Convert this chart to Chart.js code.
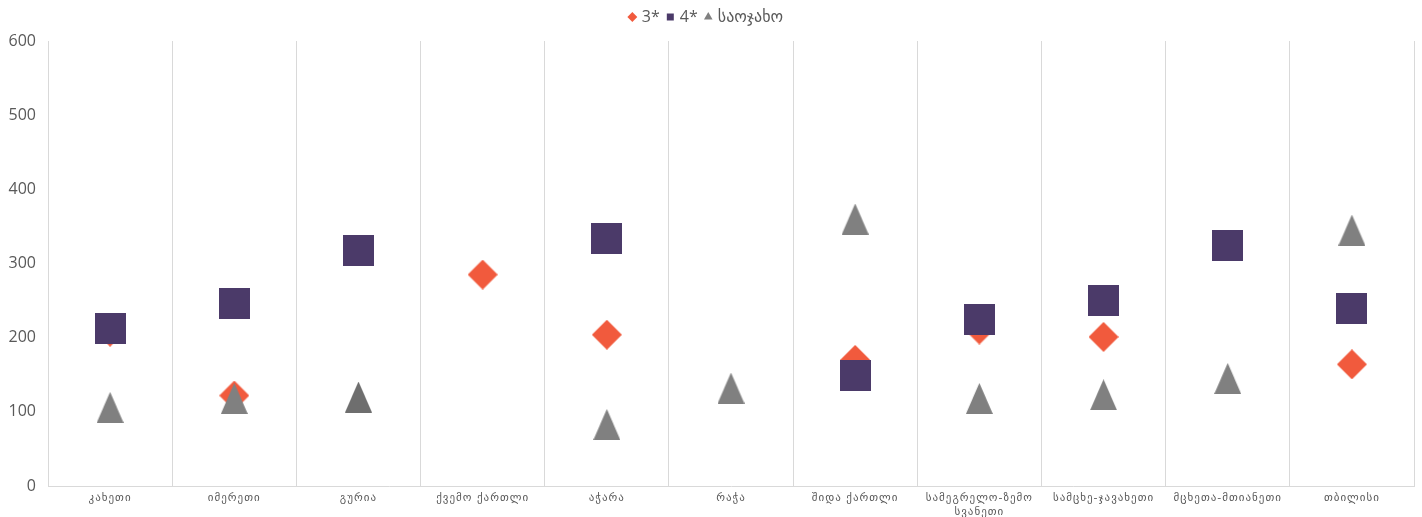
<!DOCTYPE html>
<html lang="ka">
<head>
  <meta charset="UTF-8" />
  <title>3*, 4*, საოჯახო</title>
  <script src="https://cdn.jsdelivr.net/npm/chart.js"></script>
  <style>
    html, body { margin: 0; padding: 0; background: #fff; }
    .wrap { width: 1422px; height: 517px; }
  </style>
</head>
<body>
  <div class="wrap"><canvas id="chart" width="1422" height="517"></canvas></div>

  <script>
    // regions
    const regions = ['კახეთი', 'იმერეთი', 'გურია', 'ქვემო ქართლი', 'აჭარა', 'რაჭა', 'შიდა ქართლი',
      ['სამეგრელო-ზემო', 'სვანეთი'], 'სამცხე-ჯავახეთი', 'მცხეთა-მთიანეთი', 'თბილისი'];

    const threeStar = [208, 122, null, 285, 204, null, 170, 211, 201, null, 164];
    const fourStar  = [212, 246, 317, null, 334, null, 149, 225, 250, 324, 240];
    const family    = [106, 118, 120, null, 83, 132, 360, 118, 123, 145, 345];

    const yTicks = [0, 100, 200, 300, 400, 500, 600];

    // marker images, sized like the spreadsheet ones
    function marker(shape, w, h, color) {
      const c = document.createElement('canvas');
      c.width = w; c.height = h;
      const g = c.getContext('2d');
      g.fillStyle = color;
      g.beginPath();
      if (shape === 'square') {
        g.rect(0, 0, w, h);
      } else if (shape === 'diamond') {
        g.moveTo(w / 2, 0); g.lineTo(w, h / 2); g.lineTo(w / 2, h); g.lineTo(0, h / 2);
      } else {
        g.moveTo(w / 2, 0); g.lineTo(w, h); g.lineTo(0, h);
      }
      g.closePath();
      g.fill();
      return c;
    }

    const RED = '#f15a3d', PURPLE = '#4b3a69', GREY = '#808080';
    const diamondImg = marker('diamond', 30, 30, RED);
    const squareImg = marker('square', 31, 31, PURPLE);
    const triImg = marker('triangle', 27, 31, GREY);
    const triDark = marker('triangle', 27, 31, '#6e6e6e');
    const triStyles = family.map((v, i) => i === 2 ? triDark : triImg);

    const legendStyles = [
      { pointStyle: 'rectRot', color: RED },
      { pointStyle: 'rect', color: PURPLE },
      { pointStyle: 'triangle', color: GREY }
    ];

    // extra room under the legend
    const legendGap = {
      id: 'legendGap',
      beforeInit(chart) {
        const fit = chart.legend.fit;
        chart.legend.fit = function () {
          fit.call(this);
          this.height += 6;
        };
      }
    };

    // x labels are spaced out a little in the original
    const spacedLabels = {
      id: 'spacedLabels',
      beforeDraw(chart) {
        const x = chart.scales.x;
        if (x._spaced) return;
        x._spaced = true;
        const orig = x.drawLabels;
        x.drawLabels = function (area) {
          this.ctx.save();
          this.ctx.letterSpacing = '1px';
          orig.call(this, area);
          this.ctx.restore();
        };
      }
    };

    new Chart(document.getElementById('chart'), {
      type: 'line',
      data: {
        labels: regions,
        datasets: [
          { label: '3*', data: threeStar, pointStyle: diamondImg, order: 3 },
          { label: '4*', data: fourStar, pointStyle: squareImg, order: 2 },
          { label: 'საოჯახო', data: family, pointStyle: triStyles, order: 1 }
        ].map(d => Object.assign(d, { showLine: false, spanGaps: false }))
      },
      plugins: [legendGap, spacedLabels],
      options: {
        responsive: false,
        animation: false,
        layout: { padding: { left: 0, right: 8, top: 0, bottom: 0 } },
        plugins: {
          tooltip: { enabled: false },
          legend: {
            position: 'top',
            labels: {
              usePointStyle: true,
              boxWidth: 3,
              boxHeight: 7,
              padding: 9,
              color: '#595959',
              font: { family: 'Open Sans, DejaVu Sans', size: 16 },
              generateLabels: chart => chart.data.datasets.map((d, i) => ({
                text: d.label,
                fillStyle: legendStyles[i].color,
                strokeStyle: legendStyles[i].color,
                lineWidth: 0,
                pointStyle: legendStyles[i].pointStyle,
                fontColor: '#595959',
                datasetIndex: i,
                hidden: false
              }))
            }
          }
        },
        scales: {
          x: {
            offset: true,
            afterFit: s => { s.height = 31; },
            grid: { display: true, offset: true, color: '#d9d9d9', drawTicks: false },
            border: { display: true, color: '#d9d9d9' },
            ticks: {
              padding: 6,
              maxRotation: 0,
              autoSkip: false,
              color: '#595959',
              font: { family: 'DejaVu Sans', size: 11, lineHeight: 1.2 }
            }
          },
          y: {
            min: 0,
            max: 600,
            afterFit: s => { s.width = 48; },
            afterBuildTicks: axis => { axis.ticks = yTicks.map(v => ({ value: v })); },
            grid: { display: false, drawTicks: false },
            border: { display: true, color: '#d9d9d9' },
            ticks: {
              padding: 12,
              color: '#595959',
              font: { family: 'Open Sans, DejaVu Sans', size: 16 }
            }
          }
        }
      }
    });
  </script>
</body>
</html>
